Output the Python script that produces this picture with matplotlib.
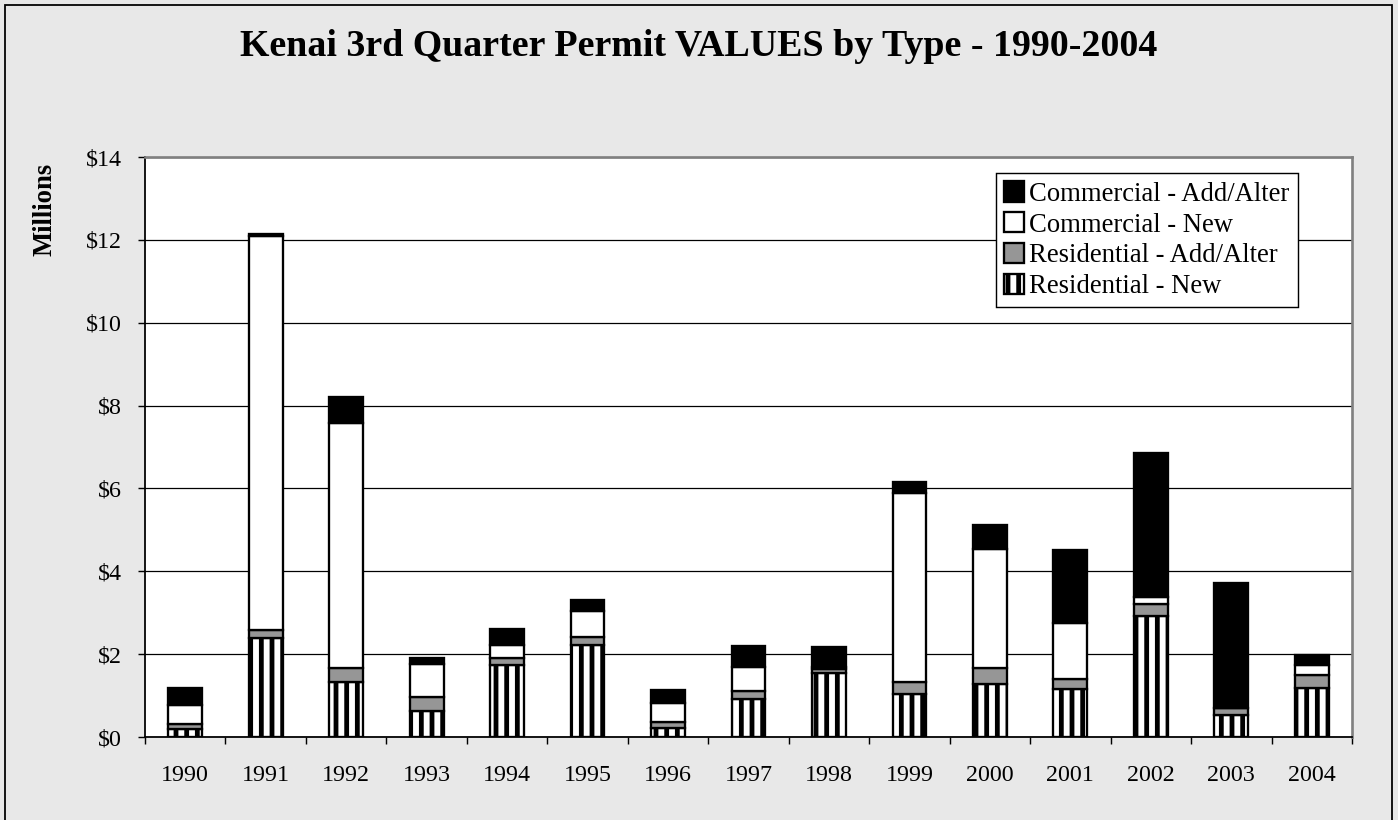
import numpy as np
import matplotlib
matplotlib.use("Agg")
import matplotlib.pyplot as plt
from matplotlib.patches import Rectangle
from matplotlib.ticker import FuncFormatter, MultipleLocator

# Datos (millones de dólares)
years = ["1990", "1991", "1992", "1993", "1994", "1995", "1996", "1997",
         "1998", "1999", "2000", "2001", "2002", "2003", "2004"]
res_new = [0.19, 2.40, 1.33, 0.64, 1.75, 2.21, 0.22, 0.92, 1.55, 1.05, 1.29, 1.16, 2.91, 0.54, 1.18]
res_add = [0.12, 0.18, 0.34, 0.33, 0.16, 0.20, 0.15, 0.18, 0.08, 0.27, 0.38, 0.23, 0.31, 0.15, 0.31]
com_new = [0.47, 9.51, 5.91, 0.80, 0.31, 0.63, 0.45, 0.59, 0.06, 4.57, 2.87, 1.37, 0.16, 0.00, 0.24]
com_add = [0.41, 0.04, 0.62, 0.13, 0.38, 0.26, 0.32, 0.50, 0.48, 0.26, 0.58, 1.76, 3.47, 3.03, 0.26]

plt.rcParams['font.family'] = ['Liberation Serif', 'DejaVu Serif']
plt.rcParams['hatch.linewidth'] = 2.7
plt.rcParams['hatch.color'] = 'black'

dpi = 128
fig = plt.figure(figsize=(1398 / dpi, 820 / dpi), dpi=dpi, facecolor='#e8e8e8')
ax = fig.add_axes([0.1037, 0.1012, 0.8634, 0.7073])
ax.set_facecolor('white')

x = np.arange(len(years))
w = 0.42
kw = dict(width=w, edgecolor='black', linewidth=1.3, zorder=3)

b1 = ax.bar(x, res_new, color='white', hatch='||', label='Residential - New', **kw)
bottom = np.array(res_new)
b2 = ax.bar(x, res_add, bottom=bottom, color='#969696', label='Residential - Add/Alter', **kw)
bottom = bottom + np.array(res_add)
b3 = ax.bar(x, com_new, bottom=bottom, color='white', label='Commercial - New', **kw)
bottom = bottom + np.array(com_new)
b4 = ax.bar(x, com_add, bottom=bottom, color='black', label='Commercial - Add/Alter', **kw)

# Ejes
ax.set_ylim(0, 14)
ax.set_xlim(-0.5, len(years) - 0.5)
ax.yaxis.set_major_locator(MultipleLocator(2))
ax.yaxis.set_major_formatter(FuncFormatter(lambda v, p: f"${v:.0f}"))
ax.grid(axis='y', color='black', linewidth=0.7, zorder=0)
ax.set_axisbelow(True)

ax.set_xticks(x)
ax.set_xticklabels(years)
ax.set_xticks(np.arange(-0.5, len(years)), minor=True)
ax.tick_params(axis='x', which='major', length=0, pad=15.5, labelsize=13.5)
ax.tick_params(axis='x', which='minor', length=4, width=0.8, direction='out')
ax.tick_params(axis='y', length=4, width=0.8, pad=9, labelsize=13.5)

for s in ['left', 'bottom']:
    ax.spines[s].set_color('black')
    ax.spines[s].set_linewidth(1.0)
for s in ['top', 'right']:
    ax.spines[s].set_color('#808080')
    ax.spines[s].set_linewidth(1.5)

fig.text(45 / 1398, 1 - 209 / 820, 'Millions', rotation=90, ha='center', va='center',
         fontsize=15, fontweight='bold')

fig.suptitle('Kenai 3rd Quarter Permit VALUES by Type - 1990-2004',
             y=1 - 47 / 820, va='center', fontsize=21.3, fontweight='bold')

leg = ax.legend(handles=[b4, b3, b2, b1], loc='upper right', bbox_to_anchor=(0.955, 0.972),
                borderaxespad=0, fancybox=False, framealpha=1, edgecolor='black',
                fontsize=15, handlelength=0.75, handleheight=0.8, handletextpad=0.2,
                labelspacing=0.2, borderpad=0.3)
leg.get_frame().set_linewidth(0.8)
leg.set_zorder(5)

# Borde exterior
fig.patches.append(Rectangle((5 / 1398, -0.01), 1 - 11 / 1398, 1 - 5 / 820 + 0.01,
                             transform=fig.transFigure, fill=False,
                             edgecolor='black', linewidth=1.0))

fig.savefig('out.png', dpi=dpi, facecolor=fig.get_facecolor())
